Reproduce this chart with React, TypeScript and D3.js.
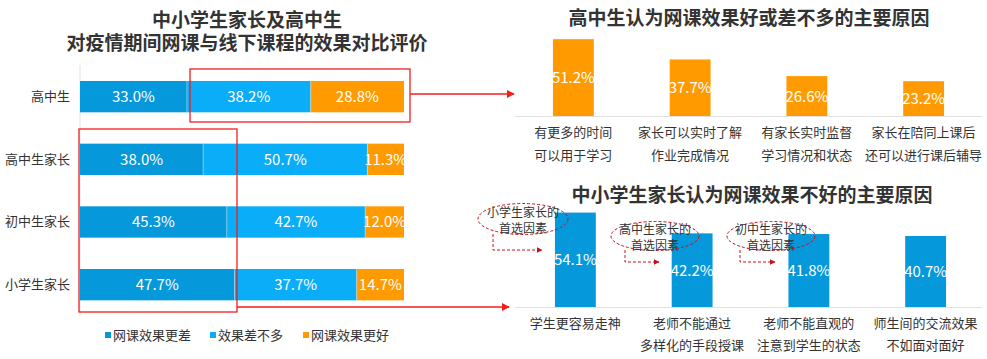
import React from 'react';
import * as d3 from 'd3';

const leftCategories = ['高中生', '高中生家长', '初中生家长', '小学生家长'];
const worse = [33.0, 38.0, 45.3, 47.7];
const similar = [38.2, 50.7, 42.7, 37.7];
const better = [28.8, 11.3, 12.0, 14.7];
const seriesNames = ['网课效果更差', '效果差不多', '网课效果更好'];

const topLabels = [
  ['有更多的时间', '可以用于学习'],
  ['家长可以实时了解', '作业完成情况'],
  ['有家长实时监督', '学习情况和状态'],
  ['家长在陪同上课后', '还可以进行课后辅导'],
];
const topValues = [51.2, 37.7, 26.6, 23.2];

const bottomLabels = [
  ['学生更容易走神'],
  ['老师不能通过', '多样化的手段授课'],
  ['老师不能直观的', '注意到学生的状态'],
  ['师生间的交流效果', '不如面对面好'],
];
const bottomValues = [54.1, 42.2, 41.8, 40.7];
const annotations = [
  ['小学生家长的', '首选因素'],
  ['高中生家长的', '首选因素'],
  ['初中生家长的', '首选因素'],
];

const DARK = '#0598da';
const LIGHT = '#0aadf7';
const ORANGE = '#ff9b00';
const TXT = '#333';
const FONT = '"Noto Sans CJK SC", "Noto Sans", sans-serif';
const RED = '#f21d1d';
const DRED = '#c8101a';

export default function App() {
  const x = d3.scaleLinear().domain([0, 100]).range([80, 404]);
  const y = d3.scaleBand<string>().domain(leftCategories).range([65.3, 316]).paddingInner(0.5).paddingOuter(0.25);
  const stackData = leftCategories.map((c, i) => ({ c, worse: worse[i], similar: similar[i], better: better[i] }));
  const stack = d3.stack<any>().keys(['worse', 'similar', 'better'])(stackData);
  const colors = [DARK, LIGHT, ORANGE];

  const xr = d3.scaleBand<number>().domain([0, 1, 2, 3]).range([515, 982]).paddingInner(0.65).paddingOuter(0.325);
  const yTop = d3.scaleLinear().domain([0, 100]).range([116, 116 - 150]);
  const yBot = d3.scaleLinear().domain([0, 100]).range([307, 307 - 174.5]);

  const legendX = [105, 210, 303];

  const ellipses = [
    { cx: 523, cy: 219, rx: 45, ry: 15.5, ex: 493, ey0: 234, ey: 250, ax: 542 },
    { cx: 655, cy: 236, rx: 44, ry: 14.5, ex: 625, ey0: 250, ey: 262, ax: 659 },
    { cx: 771, cy: 236, rx: 44, ry: 14.5, ex: 740, ey0: 250, ey: 262, ax: 775 },
  ];

  return (
    <svg width={987} height={359} style={{ position: 'absolute', left: 0, top: 0, display: 'block', background: '#fff' }} fontFamily={FONT}>
      <defs>
        <marker id="arrR" viewBox="0 0 10 10" refX="9" refY="5" markerWidth="6" markerHeight="6" orient="auto">
          <path d="M0,0 L10,5 L0,10 z" fill={RED} />
        </marker>
        <marker id="arrD" viewBox="0 0 10 10" refX="9" refY="5" markerWidth="6" markerHeight="6" orient="auto">
          <path d="M0,0 L10,5 L0,10 z" fill={DRED} />
        </marker>
      </defs>

      {/* Left title */}
      <text x={247} y={27} textAnchor="middle" fontSize={19} fontWeight="bold" fill={TXT}>中小学生家长及高中生</text>
      <text x={247} y={50} textAnchor="middle" fontSize={19} fontWeight="bold" fill={TXT}>对疫情期间网课与线下课程的效果对比评价</text>

      {/* axis */}
      <line x1={80} x2={80} y1={65} y2={316} stroke="#e3e3e3" strokeWidth={1} />

      {stack.map((s, si) => (
        <g key={si}>
          {s.map((d: any, i: number) => {
            const cat = leftCategories[i];
            const x0 = x(d[0]);
            const x1 = x(Math.min(d[1], 100));
            return (
              <g key={i}>
                <rect x={x0} y={y(cat)} width={x1 - x0} height={y.bandwidth()} fill={colors[si]} />
                {si > 0 && <line x1={x0} x2={x0} y1={y(cat)!} y2={y(cat)! + y.bandwidth()} stroke="rgba(255,255,255,0.35)" />}
                <text x={(x0 + x1) / 2} y={y(cat)! + y.bandwidth() / 2 + 5.5} textAnchor="middle" fontSize={15} fill="#fff">
                  {d.data[s.key].toFixed(1)}%
                </text>
              </g>
            );
          })}
        </g>
      ))}

      {leftCategories.map((c) => (
        <text key={c} x={70} y={y(c)! + y.bandwidth() / 2 + 4.5} textAnchor="end" fontSize={13} fill={TXT}>{c}</text>
      ))}

      {/* legend */}
      {seriesNames.map((n, i) => (
        <g key={n}>
          <rect x={legendX[i]} y={332} width={6} height={6} fill={colors[i]} />
          <text x={legendX[i] + 8} y={340} fontSize={13} fill={TXT}>{n}</text>
        </g>
      ))}

      {/* red boxes and arrows */}
      <rect x={190} y={69} width={220} height={53} fill="none" stroke={RED} strokeWidth={1.3} />
      <line x1={410} y1={94} x2={514} y2={94} stroke={RED} strokeWidth={1.3} markerEnd="url(#arrR)" />
      <rect x={79} y={129} width={158} height={183} fill="none" stroke={RED} strokeWidth={1.3} />
      <line x1={237} y1={307} x2={509} y2={307} stroke={RED} strokeWidth={1.3} markerEnd="url(#arrR)" />

      {/* Right top */}
      <text x={749} y={25} textAnchor="middle" fontSize={19} fontWeight="bold" fill={TXT}>高中生认为网课效果好或差不多的主要原因</text>
      <line x1={515} x2={982} y1={116.5} y2={116.5} stroke="#e0e0e0" />
      {topValues.map((v, i) => (
        <g key={i}>
          <rect x={xr(i)} y={yTop(v)} width={xr.bandwidth()} height={yTop(0) - yTop(v)} fill={ORANGE} />
          <text x={xr(i)! + xr.bandwidth() / 2} y={(yTop(v) + yTop(0)) / 2 + 5.5} textAnchor="middle" fontSize={15} fill="#fff">{v.toFixed(1)}%</text>
          {topLabels[i].map((l, li) => (
            <text key={li} x={xr(i)! + xr.bandwidth() / 2} y={137 + li * 23} textAnchor="middle" fontSize={13} fill={TXT}>{l}</text>
          ))}
        </g>
      ))}

      {/* Right bottom */}
      <text x={752} y={202} textAnchor="middle" fontSize={19} fontWeight="bold" fill={TXT}>中小学生家长认为网课效果不好的主要原因</text>
      <line x1={515} x2={982} y1={307.5} y2={307.5} stroke="#e0e0e0" />
      {bottomValues.map((v, i) => (
        <g key={i}>
          <rect x={xr(i)! + 2} y={yBot(v)} width={xr.bandwidth()} height={yBot(0) - yBot(v)} fill={DARK} />
          <text x={xr(i)! + 2 + xr.bandwidth() / 2} y={(yBot(v) + yBot(0)) / 2 + 5.5} textAnchor="middle" fontSize={15} fill="#fff">{v.toFixed(1)}%</text>
          {bottomLabels[i].map((l, li) => (
            <text key={li} x={xr(i)! + 2 + xr.bandwidth() / 2} y={328 + li * 22} textAnchor="middle" fontSize={13} fill={TXT}>{l}</text>
          ))}
        </g>
      ))}

      {/* annotations */}
      {ellipses.map((e, i) => (
        <g key={i}>
          <ellipse cx={e.cx} cy={e.cy} rx={e.rx} ry={e.ry} fill="none" stroke={DRED} strokeWidth={1} strokeDasharray="3,2" />
          <text x={e.cx} y={e.cy - 2} textAnchor="middle" fontSize={12} fill={TXT}>{annotations[i][0]}</text>
          <text x={e.cx} y={e.cy + 14} textAnchor="middle" fontSize={12} fill={TXT}>{annotations[i][1]}</text>
          <polyline points={`${e.ex},${e.ey0} ${e.ex},${e.ey} ${e.ax},${e.ey}`} fill="none" stroke={DRED} strokeWidth={1} strokeDasharray="3,2" markerEnd="url(#arrD)" />
        </g>
      ))}
    </svg>
  );
}
